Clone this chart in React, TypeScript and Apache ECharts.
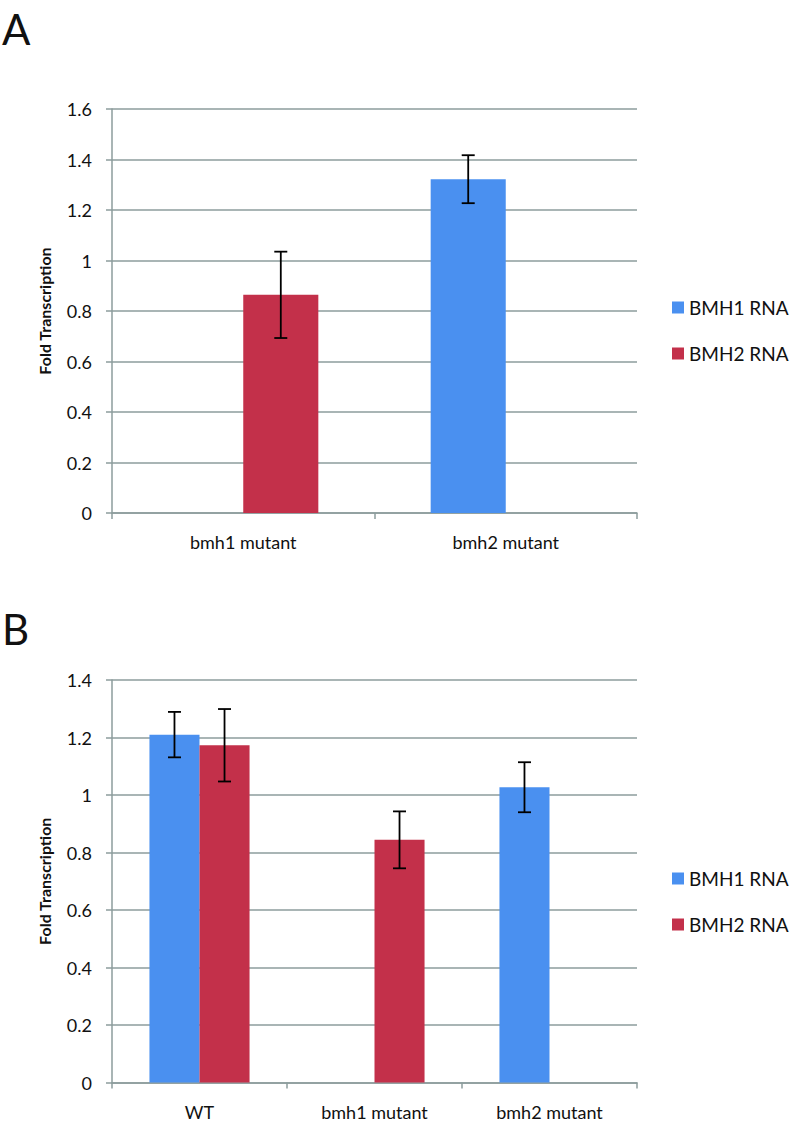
import React, { useEffect, useRef } from "react";
import * as echarts from "echarts";

// Panel A
const categoriesA = ["bmh1 mutant", "bmh2 mutant"];
const bmh1RnaA = [null, 1.322];
const bmh1ErrA = [null, 0.095];
const bmh2RnaA = [0.864, null];
const bmh2ErrA = [0.171, null];
const yTicksA = { min: 0, max: 1.6, interval: 0.2 };

// Panel B
const categoriesB = ["WT", "bmh1 mutant", "bmh2 mutant"];
const bmh1RnaB = [1.21, null, 1.027];
const bmh1ErrB = [0.079, null, 0.087];
const bmh2RnaB = [1.173, 0.844, null];
const bmh2ErrB = [0.126, 0.099, null];
const yTicksB = { min: 0, max: 1.4, interval: 0.2 };

const seriesNames = ["BMH1 RNA", "BMH2 RNA"];

const BLUE = "#4A90F0";
const RED = "#C3304A";
const GRID = "#8C9C9C";
const FONT = "Lato";
const BAR_FRAC = 0.286;

function errData(vals: (number | null)[], errs: (number | null)[]) {
  const out: number[][] = [];
  vals.forEach((v, i) => {
    if (v != null && errs[i] != null) out.push([i, v - (errs[i] as number), v + (errs[i] as number)]);
  });
  return out;
}

function errRender(sign: number) {
  return (params: any, api: any) => {
    const x = api.value(0);
    const lo = api.value(1);
    const hi = api.value(2);
    const band = api.size([1, 0])[0];
    const dx = (sign * band * BAR_FRAC) / 2;
    const pHi = api.coord([x, hi]);
    const pLo = api.coord([x, lo]);
    const cx = pHi[0] + dx;
    const style = { stroke: "#000", lineWidth: 1.8 };
    return {
      type: "group",
      children: [
        { type: "line", shape: { x1: cx, y1: pHi[1], x2: cx, y2: pLo[1] }, style },
        { type: "line", shape: { x1: cx - 6.5, y1: pHi[1], x2: cx + 6.5, y2: pHi[1] }, style },
        { type: "line", shape: { x1: cx - 6.5, y1: pLo[1], x2: cx + 6.5, y2: pLo[1] }, style },
      ],
    };
  };
}

function xAxis(cats: string[], gridIndex: number) {
  return {
    type: "category",
    gridIndex,
    data: cats,
    axisLine: { show: true, lineStyle: { color: GRID, width: 1.5 } },
    axisTick: { show: true, length: 6, lineStyle: { color: GRID, width: 1.5 } },
    axisLabel: { color: "#111", fontFamily: FONT, fontSize: 18, margin: 20 },
  };
}

function yAxis(t: { min: number; max: number; interval: number }, gridIndex: number) {
  return {
    type: "value",
    gridIndex,
    min: t.min,
    max: t.max,
    interval: t.interval,
    name: "Fold Transcription",
    nameLocation: "middle",
    nameRotate: 90,
    nameGap: 60,
    nameTextStyle: { color: "#111", fontFamily: FONT, fontSize: 16, fontWeight: "bold" },
    axisLine: { show: true, lineStyle: { color: GRID, width: 1.5 } },
    axisTick: { show: true, length: 6, lineStyle: { color: GRID, width: 1.5 } },
    axisLabel: { color: "#111", fontFamily: FONT, fontSize: 18, margin: 20 },
    splitLine: { show: true, lineStyle: { color: GRID, width: 1.5 } },
  };
}

function legend(top: number) {
  return {
    data: seriesNames,
    orient: "vertical",
    left: 672,
    top,
    padding: 0,
    itemWidth: 12,
    itemHeight: 12,
    itemGap: 27,
    icon: "rect",
    textStyle: { color: "#111", fontFamily: FONT, fontSize: 19 },
    selectedMode: false,
  };
}

export default function App() {
  const ref = useRef<HTMLDivElement>(null);
  useEffect(() => {
    if (!ref.current) return;
    const chart = echarts.init(ref.current, null, { renderer: "svg" });
    chart.setOption({
      animation: false,
      backgroundColor: "#fff",
      title: [
        { text: "A", left: 2, top: 8, padding: 0, textStyle: { fontFamily: FONT, fontSize: 42, fontWeight: "normal", color: "#111" } },
        { text: "B", left: 2, top: 608, padding: 0, textStyle: { fontFamily: FONT, fontSize: 42, fontWeight: "normal", color: "#111" } },
      ],
      legend: [legend(298), legend(869)],
      grid: [
        { left: 112, top: 109, width: 525, height: 404 },
        { left: 112, top: 680, width: 525, height: 402.5 },
      ],
      xAxis: [xAxis(categoriesA, 0), xAxis(categoriesB, 1)],
      yAxis: [yAxis(yTicksA, 0), yAxis(yTicksB, 1)],
      series: [
        { name: seriesNames[0], type: "bar", xAxisIndex: 0, yAxisIndex: 0, data: bmh1RnaA, barWidth: BAR_FRAC * 100 + "%", barGap: "0%", itemStyle: { color: BLUE } },
        { name: seriesNames[1], type: "bar", xAxisIndex: 0, yAxisIndex: 0, data: bmh2RnaA, barWidth: BAR_FRAC * 100 + "%", barGap: "0%", itemStyle: { color: RED } },
        { name: seriesNames[0], type: "bar", xAxisIndex: 1, yAxisIndex: 1, data: bmh1RnaB, barWidth: BAR_FRAC * 100 + "%", barGap: "0%", itemStyle: { color: BLUE } },
        { name: seriesNames[1], type: "bar", xAxisIndex: 1, yAxisIndex: 1, data: bmh2RnaB, barWidth: BAR_FRAC * 100 + "%", barGap: "0%", itemStyle: { color: RED } },
        { name: "errA1", type: "custom", xAxisIndex: 0, yAxisIndex: 0, data: errData(bmh1RnaA, bmh1ErrA), renderItem: errRender(-1), encode: { x: 0, y: [1, 2] }, z: 10 },
        { name: "errA2", type: "custom", xAxisIndex: 0, yAxisIndex: 0, data: errData(bmh2RnaA, bmh2ErrA), renderItem: errRender(1), encode: { x: 0, y: [1, 2] }, z: 10 },
        { name: "errB1", type: "custom", xAxisIndex: 1, yAxisIndex: 1, data: errData(bmh1RnaB, bmh1ErrB), renderItem: errRender(-1), encode: { x: 0, y: [1, 2] }, z: 10 },
        { name: "errB2", type: "custom", xAxisIndex: 1, yAxisIndex: 1, data: errData(bmh2RnaB, bmh2ErrB), renderItem: errRender(1), encode: { x: 0, y: [1, 2] }, z: 10 },
      ],
    });
    return () => chart.dispose();
  }, []);
  return <div ref={ref} style={{ position: "absolute", left: 0, top: 0, width: 794, height: 1126 }} />;
}
